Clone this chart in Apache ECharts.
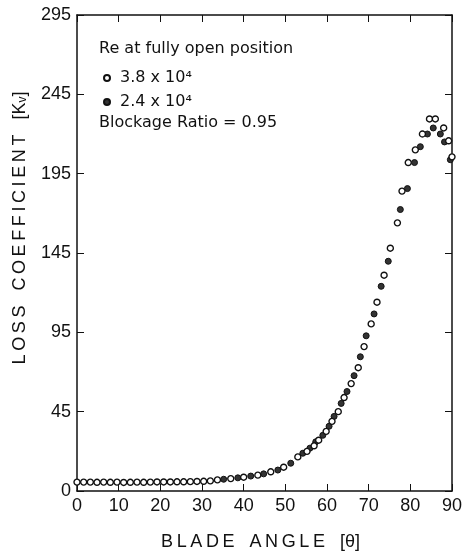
<!DOCTYPE html>
<html>
<head>
<meta charset="utf-8">
<script src="https://cdn.jsdelivr.net/npm/echarts@6/dist/echarts.min.js"></script>
<style>
  html, body { margin: 0; padding: 0; background: #fff; }
  #chart { width: 466px; height: 556px; }
</style>
</head>
<body>
<div id="chart"></div>
<script>
// Re = 3.8 x 10^4 (open circles)
const openAngle = [0, 1.6, 3.2, 4.8, 6.4, 8, 9.6, 11.2, 12.8, 14.4, 16, 17.6, 19.2, 20.8, 22.4, 24, 25.6, 27.2, 28.8, 30.4, 32, 33.7, 36.9, 40, 43.4, 46.5, 49.6, 53, 55.2, 56.9, 58, 59.8, 61.2, 62.7, 64.1, 65.8, 67.5, 68.9, 70.6, 72, 73.7, 75.2, 76.9, 78, 79.5, 81.2, 82.9, 84.6, 86, 88, 89.2, 90];
const openLoss = [0.6, 0.6, 0.6, 0.5, 0.6, 0.5, 0.6, 0.4, 0.5, 0.6, 0.5, 0.6, 0.7, 0.7, 0.7, 0.8, 0.8, 0.9, 1.0, 1.1, 1.4, 2.0, 2.8, 3.7, 5.0, 7.1, 10.0, 16.5, 20, 23.5, 27, 32.6, 38.9, 45, 53.9, 62.7, 72.7, 86, 100.3, 114, 131, 148, 164, 184, 202, 210, 220, 229.5, 229.5, 223.8, 215.7, 205.6];

// Re = 2.4 x 10^4 (filled circles)
const filledAngle = [35.2, 38.6, 41.7, 44.8, 48.2, 51.3, 54.2, 55.9, 57.3, 59, 60.5, 61.7, 63.4, 64.8, 66.5, 68, 69.4, 71.3, 73, 74.7, 77.6, 79.3, 81, 82.4, 84.1, 85.5, 87.2, 88.2, 89.6];
const filledLoss = [2.4, 3.3, 4.4, 5.8, 8.2, 12.5, 18.8, 22, 26, 30.1, 35.8, 42, 50.2, 57.7, 67.7, 79.6, 92.8, 106.6, 124, 139.8, 172.4, 185.6, 202, 212, 220, 223.8, 220, 215, 203.8];

const seriesNames = ["3.8 x 10\u2074", "2.4 x 10\u2074"];

const font = "Liberation Sans";
const noteFont = "DejaVu Sans";

// spread letters a little, like the lettering on the original figure
const spaced = (s) => s.split("").join("\u2009");

const chart = echarts.init(document.getElementById("chart"));

const pairs = (xs, ys) => xs.map((x, i) => [x, ys[i]]);

const frameAxis = {
  axisLine: { show: true, onZero: false, lineStyle: { color: "#111", width: 1.5 } },
  axisTick: { inside: true, length: 7, lineStyle: { color: "#111" } },
  splitLine: { show: false },
};

chart.setOption({
  animation: false,
  backgroundColor: "#fff",
  textStyle: { fontFamily: font, color: "#111" },
  grid: { left: 77, right: 14, top: 15, bottom: 63 },
  legend: {
    orient: "vertical",
    left: 98,
    top: 65,
    itemGap: 8,
    itemWidth: 6,
    itemHeight: 6,
    icon: "circle",
    textStyle: { fontFamily: noteFont, fontSize: 16, color: "#111", padding: [0, 0, 0, 5] },
    data: seriesNames,
  },
  graphic: [
    {
      type: "text",
      left: 99,
      top: 41,
      style: { text: "Re at fully open position", font: "16px " + noteFont, fill: "#111" },
    },
    {
      type: "text",
      left: 99,
      top: 115,
      style: { text: "Blockage Ratio = 0.95", font: "16px " + noteFont, fill: "#111" },
    },
  ],
  xAxis: [
    {
      ...frameAxis,
      type: "value",
      min: 0,
      max: 90,
      interval: 10,
      name: spaced("BLADE") + "   " + spaced("ANGLE") + "   [\u03b8]",
      nameLocation: "middle",
      nameGap: 42,
      nameTextStyle: { fontSize: 18, color: "#111", padding: [0, 8, 0, 0] },
      axisLabel: { fontSize: 18, color: "#111", margin: 6 },
    },
    {
      ...frameAxis,
      type: "value",
      position: "top",
      min: 0,
      max: 90,
      interval: 10,
      axisLabel: { show: false },
    },
  ],
  yAxis: [
    {
      ...frameAxis,
      type: "value",
      min: -5,
      max: 295,
      interval: 50,
      name: spaced("LOSS") + "   " + spaced("COEFFICIENT") + "   {b|[K}{s|v}{b|]}",
      nameLocation: "middle",
      nameRotate: 90,
      nameGap: 48,
      nameTextStyle: {
        fontSize: 18,
        color: "#111",
        padding: [0, 0, 0, 50],
        rich: {
          b: { fontSize: 18, color: "#111" },
          s: { fontSize: 12, color: "#111", verticalAlign: "bottom" },
        },
      },
      axisLabel: {
        fontSize: 18,
        color: "#111",
        margin: 6,
        formatter: (v) => (v === -5 ? "0" : String(v)),
      },
    },
    {
      ...frameAxis,
      type: "value",
      position: "right",
      min: -5,
      max: 295,
      interval: 50,
      axisLabel: { show: false },
    },
  ],
  series: [
    {
      name: seriesNames[0],
      type: "scatter",
      symbol: "circle",
      symbolSize: 6,
      z: 3,
      itemStyle: { color: "#fff", borderColor: "#111", borderWidth: 1.4, opacity: 1 },
      data: pairs(openAngle, openLoss),
    },
    {
      name: seriesNames[1],
      type: "scatter",
      symbol: "circle",
      symbolSize: 6,
      z: 2,
      itemStyle: { color: "#333", borderColor: "#111", borderWidth: 1, opacity: 1 },
      data: pairs(filledAngle, filledLoss),
    },
  ],
});
</script>
</body>
</html>
